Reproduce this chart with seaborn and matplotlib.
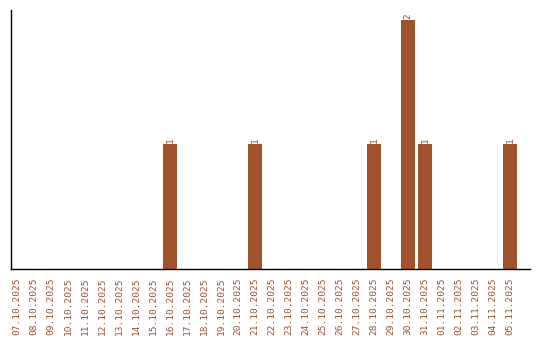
import matplotlib
matplotlib.use("Agg")
import matplotlib.pyplot as plt
import seaborn as sns
import pandas as pd

dates = ["07.10.2025", "08.10.2025", "09.10.2025", "10.10.2025", "11.10.2025",
         "12.10.2025", "13.10.2025", "14.10.2025", "15.10.2025", "16.10.2025",
         "17.10.2025", "18.10.2025", "19.10.2025", "20.10.2025", "21.10.2025",
         "22.10.2025", "23.10.2025", "24.10.2025", "25.10.2025", "26.10.2025",
         "27.10.2025", "28.10.2025", "29.10.2025", "30.10.2025", "31.10.2025",
         "01.11.2025", "02.11.2025", "03.11.2025", "04.11.2025", "05.11.2025"]
counts = [0, 0, 0, 0, 0, 0, 0, 0, 0, 1,
          0, 0, 0, 0, 1, 0, 0, 0, 0, 0,
          0, 1, 0, 2, 1, 0, 0, 0, 0, 1]

color = "#A0522D"
df = pd.DataFrame({"date": dates, "count": counts})

sns.set_style("white")
fig = plt.figure(figsize=(5.4, 3.4), dpi=100)
ax = fig.add_axes([11/540, 71/340, 519/540, 259/340])
sns.barplot(data=df, x="date", y="count", color=color, saturation=1, width=0.8,
            linewidth=0, edgecolor=color, ax=ax)

labels = [str(c) if c else "" for c in counts]
ax.bar_label(ax.containers[0], labels=labels, rotation=90, fontsize=6.8,
             color=color, family="DejaVu Sans Mono", padding=1)

ax.set_xlim(-0.36, 30.18)
ax.set_ylim(0, 2.08)
ax.set_xlabel("")
ax.set_ylabel("")
ax.set_yticks([])
ax.tick_params(axis="x", length=0, pad=6)
for t in ax.get_xticklabels():
    t.set_rotation(90)
    t.set_fontsize(6.8)
    t.set_family("DejaVu Sans Mono")
    t.set_color(color)
for s in ["top", "right"]:
    ax.spines[s].set_visible(False)
for s in ["left", "bottom"]:
    ax.spines[s].set_color("black")
    ax.spines[s].set_linewidth(1)

fig.savefig("out.png", dpi=100)
